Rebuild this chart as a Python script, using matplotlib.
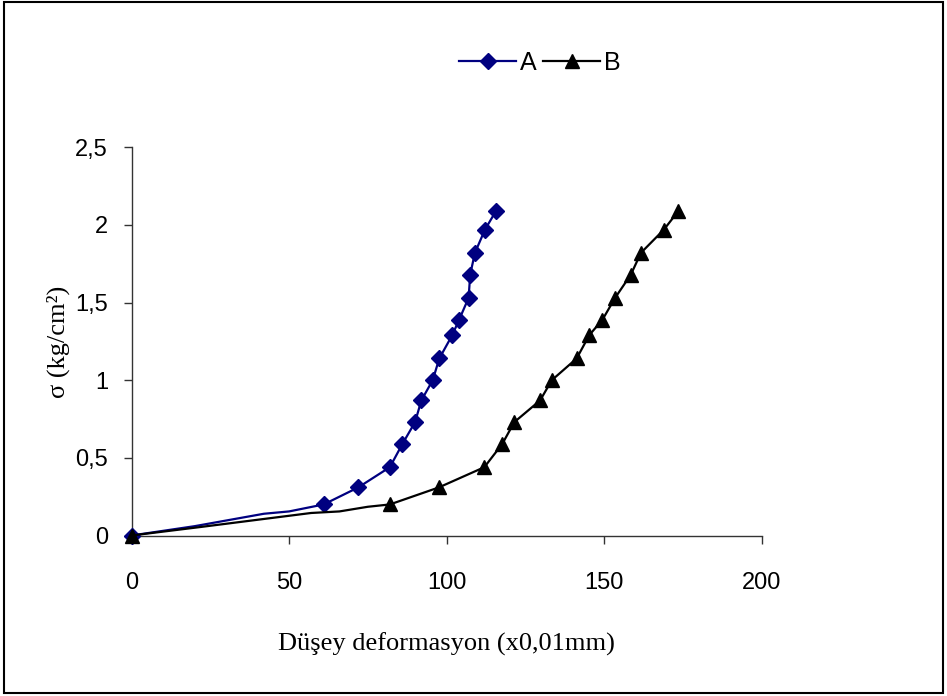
import matplotlib
matplotlib.use("Agg")
import matplotlib.pyplot as plt
from matplotlib.patches import Rectangle

# Series A: stress vs vertical deformation (unmarked points are bends in the curve)
a_x = [0, 20, 42, 50, 61, 72, 82, 86, 90, 92, 95.6, 97.7, 101.8, 104, 107, 107.5, 109, 112.2, 115.7]
a_y = [0, 0.06, 0.14, 0.155, 0.2, 0.31, 0.44, 0.59, 0.73, 0.87, 1.0, 1.14, 1.29, 1.39, 1.53, 1.68, 1.82, 1.97, 2.09]
a_marks = [0, 4, 5, 6, 7, 8, 9, 10, 11, 12, 13, 14, 15, 16, 17, 18]

# Series B
b_x = [0, 22, 57, 66, 75, 82, 97.6, 112, 117.7, 121.5, 129.7, 133.4, 141.3, 145.3, 149.5, 153.5, 158.5, 161.7, 169, 173.6]
b_y = [0, 0.055, 0.145, 0.155, 0.185, 0.2, 0.31, 0.44, 0.59, 0.73, 0.87, 1.0, 1.14, 1.29, 1.39, 1.53, 1.68, 1.82, 1.97, 2.09]
b_marks = [0, 5, 6, 7, 8, 9, 10, 11, 12, 13, 14, 15, 16, 17, 18, 19]

x_ticks = [0, 50, 100, 150, 200]
y_ticks = [0, 0.5, 1, 1.5, 2, 2.5]
y_ticklabels = ["0", "0,5", "1", "1,5", "2", "2,5"]

fig = plt.figure(figsize=(9.47, 6.96), dpi=100)
ax = fig.add_axes([0.1389, 0.2306, 0.6653, 0.5578])

ax.plot(a_x, a_y, color="#000080", lw=1.6, marker="D", markersize=8,
        markevery=a_marks, label="A", clip_on=False, zorder=3)
ax.plot(b_x, b_y, color="black", lw=1.6, marker="^", markersize=10,
        markevery=b_marks, label="B", clip_on=False, zorder=3)

ax.set_xlim(0, 200)
ax.set_ylim(0, 2.5)
ax.set_xticks(x_ticks)
ax.set_xticklabels([str(t) for t in x_ticks])
ax.set_yticks(y_ticks)
ax.set_yticklabels(y_ticklabels)

for s in ["top", "right"]:
    ax.spines[s].set_visible(False)
for s in ["left", "bottom"]:
    ax.spines[s].set_color("#333333")
    ax.spines[s].set_linewidth(1.0)

ax.tick_params(axis="both", direction="out", length=6, width=1, color="#333333")
ax.tick_params(axis="x", pad=20)
ax.tick_params(axis="y", pad=11)
for lbl in ax.get_xticklabels() + ax.get_yticklabels():
    lbl.set_fontfamily("Liberation Sans")
    lbl.set_fontsize(17)

ax.set_xlabel("Düşey deformasyon (x0,01mm)", fontfamily="Liberation Serif",
              fontsize=19, labelpad=28)
ax.set_ylabel("σ (kg/cm²)", fontfamily="Liberation Serif", fontsize=19)
ax.yaxis.set_label_coords(-0.097, 0.5)

leg = fig.legend(loc="center", bbox_to_anchor=(0.57, 0.91), ncol=2, frameon=False,
                 prop={"family": "Liberation Sans", "size": 18},
                 handlelength=2.3, handletextpad=0.15, columnspacing=0.25)

# outer chart border
fig.patches.append(Rectangle((0.004, 0.005), 0.992, 0.992, transform=fig.transFigure,
                             fill=False, edgecolor="black", lw=1.5))

fig.savefig("out.png", dpi=100)
